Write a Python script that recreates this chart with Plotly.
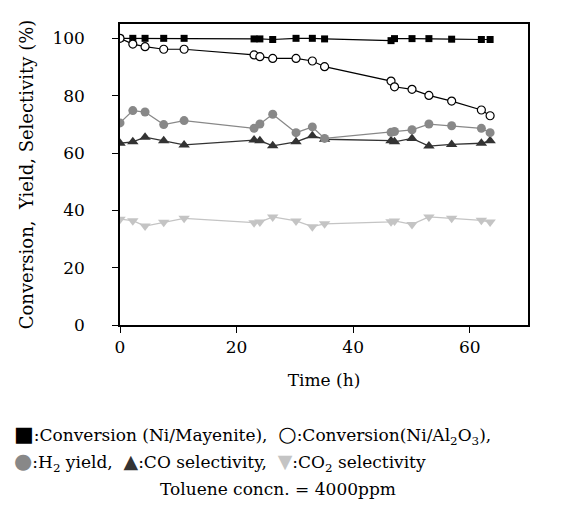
import plotly.graph_objects as go

time_h = [0, 2.2, 4.3, 7.5, 11.0, 23.0, 24.0, 26.2, 30.2, 33.0, 35.1, 46.5, 47.1, 50.1, 53.0, 56.9, 62.0, 63.5]
conv_mayenite = [100, 100, 100, 100, 100, 99.8, 99.8, 99.6, 100, 100, 99.8, 99.2, 99.9, 99.9, 99.9, 99.7, 99.6, 99.6]
conv_al2o3 = [100, 98.0, 97.1, 96.2, 96.2, 94.2, 93.6, 93.0, 93.0, 92.1, 90.1, 85.1, 83.1, 82.2, 80.1, 78.1, 75.0, 73.0]
h2_yield = [70.5, 74.8, 74.3, 69.9, 71.3, 68.6, 70.1, 73.5, 67.1, 69.1, 65.1, 67.2, 67.5, 68.1, 70.1, 69.5, 68.6, 67.1]
co_sel = [63.4, 63.9, 65.5, 64.3, 62.8, 64.5, 64.3, 62.5, 63.9, 66.0, 64.8, 64.3, 63.9, 65.1, 62.4, 63.0, 63.4, 64.3]
co2_sel = [36.9, 36.4, 34.5, 35.8, 37.2, 35.7, 35.9, 37.7, 36.3, 34.3, 35.3, 36.0, 36.3, 35.1, 37.7, 37.2, 36.5, 35.9]

x_ticks = [0, 20, 40, 60]
y_ticks = [0, 20, 40, 60, 80, 100]

FONT = "DejaVu Serif"
fig = go.Figure()

fig.add_trace(go.Scatter(x=time_h, y=co2_sel, mode="lines+markers",
                         line=dict(color="#c4c4c4", width=1.3),
                         marker=dict(symbol="triangle-down", size=10, color="#c4c4c4")))
fig.add_trace(go.Scatter(x=time_h, y=co_sel, mode="lines+markers",
                         line=dict(color="#333333", width=1.3),
                         marker=dict(symbol="triangle-up", size=10, color="#333333")))
fig.add_trace(go.Scatter(x=time_h, y=h2_yield, mode="lines+markers",
                         line=dict(color="#888888", width=1.3),
                         marker=dict(symbol="circle", size=9, color="#888888")))
fig.add_trace(go.Scatter(x=time_h, y=conv_mayenite, mode="lines+markers",
                         line=dict(color="#000000", width=1.2),
                         marker=dict(symbol="square", size=7, color="#000000")))
fig.add_trace(go.Scatter(x=time_h, y=conv_al2o3, mode="lines+markers",
                         line=dict(color="#000000", width=1.2),
                         marker=dict(symbol="circle", size=8, color="white",
                                     line=dict(color="black", width=1.2))))

axis_common = dict(showline=True, linecolor="black", linewidth=1.5, mirror=True,
                   ticks="outside", ticklen=6, tickwidth=1.3, tickcolor="black",
                   showgrid=False, zeroline=False,
                   tickfont=dict(family=FONT, size=17, color="black"))

fig.update_xaxes(range=[0, 70], tickvals=x_ticks,
                 title=dict(text="Time (h)", font=dict(family=FONT, size=17, color="black"), standoff=18),
                 **axis_common)
fig.update_yaxes(range=[0, 105], tickvals=y_ticks, ticklabelstandoff=24,
                 title=dict(text="Conversion,  Yield, Selectivity (%)",
                            font=dict(family=FONT, size=18, color="black"), standoff=14),
                 **axis_common)

legend_font = dict(family=FONT, size=17, color="black")
line1 = ("<span style='color:#000;font-size:21px'>■</span>:Conversion (Ni/Mayenite),  "
         "<span style='color:#000;font-size:21px'>○</span>:Conversion(Ni/Al<sub>2</sub>O<sub>3</sub>),")
line2 = ("<span style='color:#888888;font-size:21px'>●</span>:H<sub>2</sub> yield,  "
         "<span style='color:#333333;font-size:19px'>▲</span>:CO selectivity,  "
         "<span style='color:#c4c4c4;font-size:19px'>▼</span>:CO<sub>2</sub> selectivity")
line3 = "Toluene concn. = 4000ppm"

fig.add_annotation(text=line1, x=12, y=435, xref="paper", yref="paper", showarrow=False,
                   xanchor="left", yanchor="middle", font=legend_font)
fig.add_annotation(text=line2, x=12, y=462, xref="paper", yref="paper", showarrow=False,
                   xanchor="left", yanchor="middle", font=legend_font)
fig.add_annotation(text=line3, x=278, y=489, xref="paper", yref="paper", showarrow=False,
                   xanchor="center", yanchor="middle", font=legend_font)

# convert pixel positions to paper coordinates
W, H = 566, 511
L, R, T, B = 120, 38, 24, 186
for a in fig.layout.annotations:
    a.x = (a.x - L) / (W - L - R)
    a.y = (H - B - a.y) / (H - T - B)

fig.update_layout(width=W, height=H, margin=dict(l=L, r=R, t=T, b=B),
                  plot_bgcolor="white", paper_bgcolor="white", showlegend=False,
                  font=dict(family=FONT))

fig.write_html("out.html")
